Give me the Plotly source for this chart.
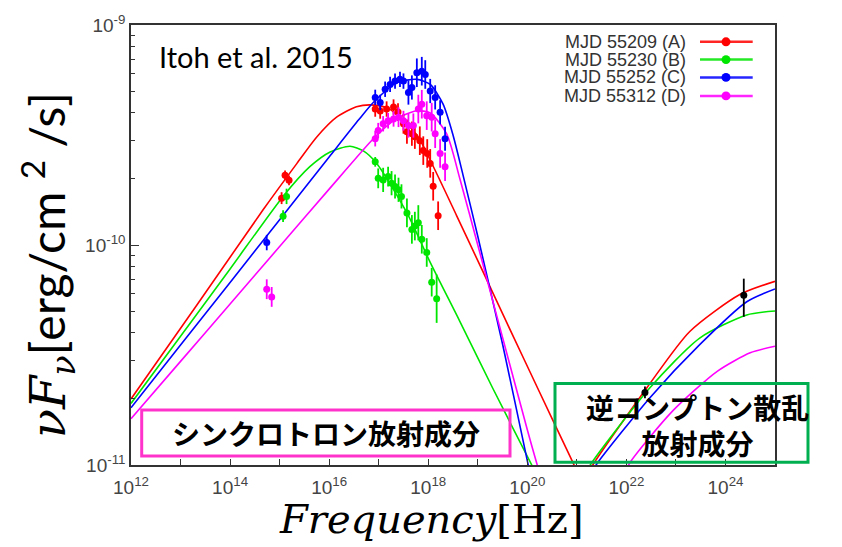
import plotly.graph_objects as go

# ---------------------------------------------------------------------------
# Broadband SED of the source at four epochs (Itoh et al. 2015)
# frequencies and fluxes are given as log10(nu / Hz) and log10(nuF_nu / erg cm^-2 s^-1)
# ---------------------------------------------------------------------------
epochs = ["MJD 55209 (A)", "MJD 55230 (B)", "MJD 55252 (C)", "MJD 55312 (D)"]
colors = ["#ff0000", "#00e600", "#0000ff", "#ff00ff"]

# observed points, with 1-sigma errors in dex
a_lognu = [15.11, 15.19, 15.04, 16.93, 17.03, 17.16, 17.30, 17.39, 17.50, 17.57,
           17.67, 17.73, 17.83, 17.90, 17.98, 18.04, 18.10, 18.20]
a_logf = [-9.683, -9.706, -9.787, -9.382, -9.391, -9.382, -9.373, -9.396, -9.449, -9.485,
          -9.494, -9.508, -9.526, -9.571, -9.584, -9.629, -9.733, -9.867]
a_err = [0.022, 0.022, 0.027, 0.035, 0.035, 0.035, 0.035, 0.040, 0.045, 0.055,
         0.055, 0.055, 0.065, 0.065, 0.065, 0.065, 0.065, 0.065]

b_lognu = [15.14, 15.07, 16.93, 16.99, 17.09, 17.19, 17.26, 17.33, 17.40, 17.46,
           17.57, 17.67, 17.73, 17.80, 17.87, 17.97, 18.07, 18.17]
b_logf = [-9.779, -9.869, -9.622, -9.697, -9.704, -9.689, -9.719, -9.734, -9.749, -9.779,
          -9.854, -9.929, -9.914, -9.899, -9.974, -10.034, -10.169, -10.244]
b_err = [0.035, 0.027, 0.022, 0.045, 0.055, 0.045, 0.055, 0.055, 0.055, 0.055,
         0.065, 0.065, 0.065, 0.080, 0.065, 0.065, 0.065, 0.110]

c_lognu = [14.74, 16.93, 17.03, 17.13, 17.23, 17.33, 17.43, 17.50, 17.60, 17.67,
           17.77, 17.87, 17.94, 18.04, 18.14, 18.24, 18.34]
c_logf = [-9.989, -9.329, -9.352, -9.292, -9.270, -9.255, -9.247, -9.255, -9.307, -9.284,
          -9.217, -9.210, -9.225, -9.300, -9.329, -9.397, -9.517]
c_err = [0.035, 0.035, 0.035, 0.035, 0.035, 0.035, 0.035, 0.035, 0.055, 0.055,
         0.065, 0.065, 0.065, 0.055, 0.055, 0.055, 0.055]

d_lognu = [14.74, 14.84, 16.93, 16.99, 17.09, 17.19, 17.30, 17.40, 17.50, 17.60,
           17.70, 17.80, 17.87, 17.97, 18.07, 18.14, 18.24, 18.34]
d_logf = [-10.201, -10.236, -9.517, -9.480, -9.449, -9.435, -9.427, -9.419, -9.435, -9.457,
          -9.457, -9.382, -9.360, -9.412, -9.419, -9.494, -9.584, -9.644]
d_err = [0.045, 0.045, 0.035, 0.035, 0.035, 0.035, 0.035, 0.045, 0.045, 0.055,
         0.055, 0.065, 0.065, 0.065, 0.065, 0.065, 0.065, 0.065]

# gamma-ray points (black), asymmetric errors in dex
g_lognu = [22.375, 24.37]
g_logf = [-10.670, -10.228]
g_err_hi = [0.027, 0.075]
g_err_lo = [0.027, 0.098]

# model curves: synchrotron component
sync_a_lognu = [12.0, 13.33, 14.67, 15.35, 15.75, 16.15, 16.55, 16.85, 17.2, 17.77, 18.17, 18.57, 19.05, 19.6, 20.26, 20.86, 21.1]
sync_a_logf = [-10.70, -10.273, -9.839, -9.629, -9.509, -9.419, -9.372, -9.363, -9.38, -9.50, -9.675, -9.865, -10.095, -10.36, -10.675, -10.96, -11.075]

sync_b_lognu = [12.0, 13.0, 14.0, 15.07, 15.61, 16.02, 16.42, 16.69, 16.96, 17.57, 18.04, 18.64, 19.3, 20.09, 20.3]
sync_b_logf = [-10.72, -10.415, -10.109, -9.779, -9.644, -9.577, -9.551, -9.572, -9.629, -9.854, -10.079, -10.348, -10.65, -11.0, -11.09]

sync_c_lognu = [12.0, 13.0, 14.0, 15.0, 16.0, 16.6, 16.9, 17.36, 17.77, 18.04, 18.3, 18.5, 18.7, 19.0, 19.5, 19.99, 20.15]
sync_c_logf = [-10.74, -10.455, -10.17, -9.885, -9.60, -9.43, -9.35, -9.263, -9.247, -9.27, -9.36, -9.50, -9.68, -9.96, -10.45, -10.97, -11.14]

sync_d_lognu = [12.0, 13.0, 14.0, 15.0, 16.0, 16.89, 17.16, 17.36, 17.77, 18.04, 18.37, 18.64, 19.0, 19.5, 20.0, 20.2, 20.35]
sync_d_logf = [-10.79, -10.529, -10.268, -10.007, -9.746, -9.517, -9.46, -9.425, -9.39, -9.40, -9.494, -9.70, -10.0, -10.42, -10.84, -11.0, -11.12]

# model curves: inverse-Compton component
ic_a_lognu = [21.2, 21.35, 22.41, 23.28, 24.29, 25.0]
ic_a_logf = [-11.05, -10.99, -10.65, -10.393, -10.225, -10.165]

ic_b_lognu = [21.15, 21.3, 22.48, 23.48, 24.43, 25.0]
ic_b_logf = [-11.05, -10.99, -10.648, -10.423, -10.318, -10.30]

ic_c_lognu = [21.25, 21.42, 22.48, 23.48, 24.43, 25.0]
ic_c_logf = [-11.05, -10.99, -10.693, -10.453, -10.258, -10.20]

ic_d_lognu = [21.95, 22.07, 22.94, 23.84, 24.5, 25.0]
ic_d_logf = [-11.05, -10.99, -10.753, -10.573, -10.49, -10.46]

x_tick_exponents = list(range(12, 26))
y_tick_exponents = [-11, -10, -9]


def lin(v):
    return [10.0 ** x for x in v]


fig = go.Figure()

curves = [
    (sync_a_lognu, sync_a_logf, ic_a_lognu, ic_a_logf),
    (sync_b_lognu, sync_b_logf, ic_b_lognu, ic_b_logf),
    (sync_c_lognu, sync_c_logf, ic_c_lognu, ic_c_logf),
    (sync_d_lognu, sync_d_logf, ic_d_lognu, ic_d_logf),
]
for (sx, sy, ix, iy), col, name in zip(curves, colors, epochs):
    for cx, cy in ((sx, sy), (ix, iy)):
        fig.add_trace(go.Scatter(
            x=lin(cx), y=lin(cy), mode="lines", name=name,
            line=dict(color=col, width=1.6, shape="spline", smoothing=0.7),
            showlegend=False, hoverinfo="skip"))

points = [
    (a_lognu, a_logf, a_err, a_err),
    (b_lognu, b_logf, b_err, b_err),
    (c_lognu, c_logf, c_err, c_err),
    (d_lognu, d_logf, d_err, d_err),
    (g_lognu, g_logf, g_err_hi, g_err_lo),
]
for (px, py, ehi, elo), col in zip(points, colors + ["#000000"]):
    fy = lin(py)
    fig.add_trace(go.Scatter(
        x=lin(px), y=fy, mode="markers",
        marker=dict(color=col, size=7),
        error_y=dict(type="data", symmetric=False,
                     array=[f * (10.0 ** e - 1) for f, e in zip(fy, ehi)],
                     arrayminus=[f * (1 - 10.0 ** -e) for f, e in zip(fy, elo)],
                     color=col, thickness=1.8, width=0),
        showlegend=False))

tick_font = dict(family="Liberation Sans, Arial, sans-serif", size=19, color="#444444")

fig.update_xaxes(
    type="log", range=[12, 25],
    tickvals=[10.0 ** e for e in x_tick_exponents],
    ticktext=[f"10<sup>{e}</sup>" if e % 2 == 0 else "" for e in x_tick_exponents],
    ticks="inside", ticklen=6, tickwidth=1.2, tickcolor="#333333",
    ticklabelstandoff=4,
    showline=True, linecolor="#333333", linewidth=1.5, mirror=True,
    showgrid=False, zeroline=False, tickfont=tick_font)

fig.update_yaxes(
    type="log", range=[-11, -9],
    tickvals=[10.0 ** e for e in y_tick_exponents],
    ticktext=[f"10<sup>{e}</sup>" for e in y_tick_exponents],
    ticks="inside", ticklen=8, tickwidth=1.2, tickcolor="#333333",
    minor=dict(ticks="inside", ticklen=4, tickcolor="#333333", tickwidth=1,
               tickvals=[k * 10.0 ** e for e in (-11, -10) for k in range(2, 10)]),
    showline=True, linecolor="#333333", linewidth=1.5, mirror=True,
    showgrid=False, zeroline=False, tickfont=tick_font)

# plot area: 644 x 445 px
PW, PH = 644.0, 445.0


def px_x(v):
    return v / PW


def px_y(v):
    return v / PH


shapes = []
annotations = []

# legend drawn in the upper-right corner, symbol to the right of the label
leg_rows = [428, 410, 392, 373.3]
for row, col, name in zip(leg_rows, colors, epochs):
    yy = px_y(row)
    shapes.append(dict(type="line", xref="paper", yref="paper",
                       x0=px_x(569), x1=px_x(621.7), y0=yy, y1=yy,
                       line=dict(color=col, width=2.5), opacity=0.85))
    shapes.append(dict(type="circle", xref="paper", yref="paper",
                       x0=px_x(595 - 4.5), x1=px_x(595 + 4.5),
                       y0=px_y(row - 4.5), y1=px_y(row + 4.5),
                       fillcolor=col, line=dict(color=col, width=0)))
    annotations.append(dict(xref="paper", yref="paper", x=px_x(556), y=yy,
                            xanchor="right", yanchor="middle", showarrow=False,
                            borderpad=0,
                            text=name,
                            font=dict(family="Liberation Sans, Arial, sans-serif",
                                      size=18, color="#333333")))

# component labels
shapes.append(dict(type="rect", xref="paper", yref="paper",
                   x0=px_x(10.7), x1=px_x(379), y0=px_y(9), y1=px_y(55.7),
                   line=dict(color="#ff33cc", width=3)))
annotations.append(dict(xref="paper", yref="paper", x=px_x(195), y=px_y(32),
                        xanchor="center", yanchor="middle", showarrow=False,
                        text="<b>シンクロトロン放射成分</b>",
                        font=dict(family="Noto Sans CJK JP", size=28, color="#000000")))

shapes.append(dict(type="rect", xref="paper", yref="paper",
                   x0=px_x(424), x1=px_x(677), y0=px_y(2.7), y1=px_y(82.3),
                   line=dict(color="#00b050", width=3)))
annotations.append(dict(xref="paper", yref="paper", x=px_x(566), y=px_y(40.6),
                        xanchor="center", yanchor="middle", showarrow=False,
                        text="<b>逆コンプトン散乱<br>放射成分</b>",
                        font=dict(family="Noto Sans CJK JP", size=28, color="#000000")))

annotations.append(dict(xref="paper", yref="paper", x=px_x(26), y=px_y(413),
                        xanchor="left", yanchor="middle", showarrow=False,
                        text="Itoh et al. 2015",
                        font=dict(family="Lato, sans-serif", size=29, color="#000000")))

# axis titles
annotations.append(dict(xref="paper", yref="paper", x=px_x(300), y=px_y(-55),
                        xanchor="center", yanchor="middle", showarrow=False,
                        text="<i>Frequency</i>[Hz]",
                        font=dict(family="DejaVu Serif, serif", size=40, color="#000000")))
annotations.append(dict(xref="paper", yref="paper", x=px_x(-84), y=px_y(202),
                        xanchor="center", yanchor="middle", showarrow=False,
                        textangle=-90,
                        text='<span style="font-family:DejaVu Serif;font-style:italic">νF<sub>ν</sub></span>[erg/cm <sup>2</sup> /s]',
                        font=dict(family="Lato, sans-serif", size=48, color="#000000")))

fig.update_layout(
    width=842, height=547,
    margin=dict(l=131, r=67, t=20, b=82),
    paper_bgcolor="white", plot_bgcolor="white",
    shapes=shapes, annotations=annotations,
    showlegend=False)

fig.write_html("out.html")
